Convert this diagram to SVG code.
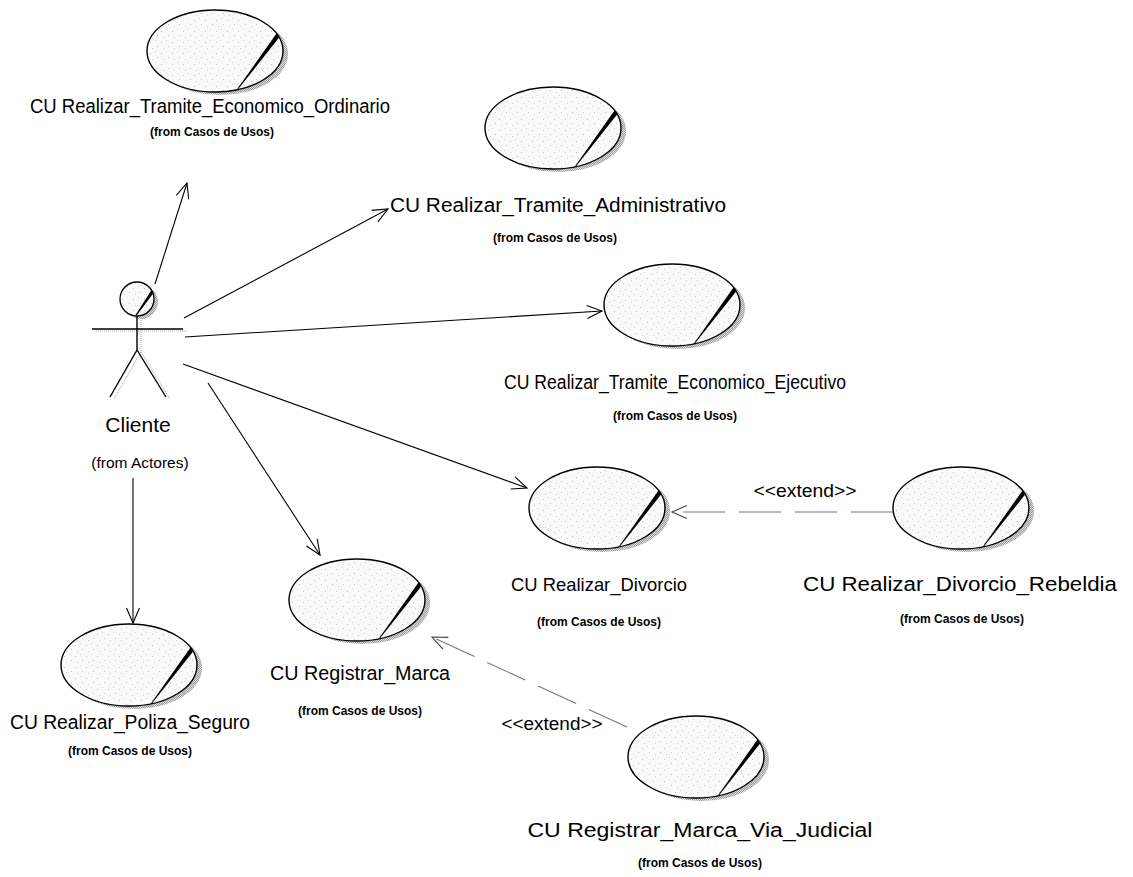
<svg xmlns="http://www.w3.org/2000/svg" width="1133" height="877" viewBox="0 0 1133 877">
  <style>
    .lbl { font-family: "Liberation Sans", Arial, sans-serif; font-size: 20px; fill: #000; text-anchor: middle; }
    .pkg { font-family: "Liberation Sans", Arial, sans-serif; font-size: 12px; font-weight: bold; fill: #000; text-anchor: middle; }
    .ext { font-family: "Liberation Sans", Arial, sans-serif; font-size: 18px; fill: #000; text-anchor: middle; }
    .assoc { stroke: #000; stroke-width: 1.1; fill: none; marker-end: url(#open); }
    .dep { stroke: #777; stroke-width: 1.1; fill: none; stroke-dasharray: 42 14; marker-end: url(#openGray); }
    .fig { stroke: #000; stroke-width: 1.4; fill: none; }
    .figShadow { stroke: #b0b0b0; stroke-width: 1.2; fill: none; stroke-dasharray: 1 1; }
  </style>
  <defs>
    <!-- speckled light fill used by the business use case icons -->
    <pattern id="stip" width="11" height="11" patternUnits="userSpaceOnUse">
      <rect width="11" height="11" fill="#fafafa"/>
      <rect x="1" y="2" width="1" height="1" fill="#c4c4c4"/>
      <rect x="6" y="0" width="1" height="1" fill="#d8d8d8"/>
      <rect x="8" y="6" width="1" height="1" fill="#c4c4c4"/>
      <rect x="3" y="8" width="1" height="1" fill="#d2d2d2"/>
    </pattern>
    <pattern id="shade" width="2" height="2" patternUnits="userSpaceOnUse">
      <rect width="2" height="2" fill="#dcdcdc"/>
      <rect width="1" height="1" fill="#9a9a9a"/>
      <rect x="1" y="1" width="1" height="1" fill="#9a9a9a"/>
    </pattern>
    <!-- business use case icon, centred on the origin -->
    <g id="uc">
      <ellipse cx="5" cy="3" rx="68" ry="41" fill="url(#shade)"/>
      <ellipse rx="68" ry="41" fill="url(#stip)"/>
      <polygon points="61.5,-17.5 64.5,-14 22.5,39 21.5,39" fill="#000"/>
      <ellipse rx="68" ry="41" fill="none" stroke="#000" stroke-width="1.4"/>
    </g>
    <marker id="open" markerWidth="20" markerHeight="16" refX="0" refY="0" viewBox="-16 -8 20 16" orient="auto" markerUnits="userSpaceOnUse">
      <path d="M-15,-6.5 L0,0 L-15,6.5" fill="none" stroke="#000" stroke-width="1.1"/>
    </marker>
    <marker id="openGray" markerWidth="20" markerHeight="16" refX="0" refY="0" viewBox="-16 -8 20 16" orient="auto" markerUnits="userSpaceOnUse">
      <path d="M-15,-6.5 L0,0 L-15,6.5" fill="none" stroke="#444" stroke-width="1.1"/>
    </marker>
  </defs>

  <rect width="1133" height="877" fill="#fff"/>

  <!-- connectors -->
  <g id="connectors">
    <line class="assoc" x1="155" y1="284" x2="187" y2="183"/>
    <line class="assoc" x1="184" y1="318" x2="388" y2="209"/>
    <line class="assoc" x1="185" y1="337" x2="602" y2="311"/>
    <line class="assoc" x1="183" y1="364" x2="527" y2="488"/>
    <line class="assoc" x1="208" y1="383" x2="320" y2="555"/>
    <line class="assoc" x1="133" y1="478" x2="133" y2="623"/>
    <line class="dep" x1="893" y1="512" x2="672" y2="512"/>
    <line class="dep" x1="627" y1="727" x2="432" y2="637"/>
    <text class="ext" x="805" y="497" textLength="103" lengthAdjust="spacingAndGlyphs">&lt;&lt;extend&gt;&gt;</text>
    <text class="ext" x="552" y="730" textLength="101" lengthAdjust="spacingAndGlyphs">&lt;&lt;extend&gt;&gt;</text>
  </g>

  <!-- actor -->
  <g id="cliente">
    <circle cx="141" cy="302" r="17" fill="url(#shade)"/>
    <line class="figShadow" x1="141" y1="318" x2="141" y2="352"/>
    <line class="figShadow" x1="96" y1="331" x2="187" y2="331"/>
    <line class="figShadow" x1="141" y1="352" x2="114" y2="399"/>
    <line class="figShadow" x1="141" y1="352" x2="170" y2="399"/>
    <circle cx="137" cy="299" r="17" fill="url(#stip)"/>
    <polygon points="151.5,290 153.5,293 137,315 135.5,315" fill="#000"/>
    <circle cx="137" cy="299" r="17" fill="none" stroke="#000" stroke-width="1.3"/>
    <line class="fig" x1="137" y1="316" x2="137" y2="350"/>
    <line class="fig" x1="92" y1="329" x2="183" y2="329"/>
    <line class="fig" x1="137" y1="350" x2="110" y2="397"/>
    <line class="fig" x1="137" y1="350" x2="166" y2="397"/>
    <text class="lbl" x="138" y="432" style="font-size:21px">Cliente</text>
    <text class="lbl" x="140" y="468" style="font-size:15.5px">(from Actores)</text>
  </g>

  <!-- use cases -->
  <g id="uc-ordinario">
    <use href="#uc" x="215" y="51"/>
    <text class="lbl" x="210" y="113" textLength="360" lengthAdjust="spacingAndGlyphs">CU Realizar_Tramite_Economico_Ordinario</text>
    <text class="pkg" x="212" y="136">(from Casos de Usos)</text>
  </g>
  <g id="uc-administrativo">
    <use href="#uc" x="553" y="128"/>
    <text class="lbl" x="558" y="212" textLength="336" lengthAdjust="spacingAndGlyphs">CU Realizar_Tramite_Administrativo</text>
    <text class="pkg" x="555" y="242">(from Casos de Usos)</text>
  </g>
  <g id="uc-ejecutivo">
    <use href="#uc" x="672" y="305"/>
    <text class="lbl" x="675" y="389" textLength="342" lengthAdjust="spacingAndGlyphs">CU Realizar_Tramite_Economico_Ejecutivo</text>
    <text class="pkg" x="675" y="420">(from Casos de Usos)</text>
  </g>
  <g id="uc-divorcio">
    <use href="#uc" x="597" y="508"/>
    <text class="lbl" x="599" y="591" textLength="176" lengthAdjust="spacingAndGlyphs" style="font-size:19px">CU Realizar_Divorcio</text>
    <text class="pkg" x="599" y="626">(from Casos de Usos)</text>
  </g>
  <g id="uc-rebeldia">
    <use href="#uc" x="961" y="508"/>
    <text class="lbl" x="960" y="591" textLength="314" lengthAdjust="spacingAndGlyphs">CU Realizar_Divorcio_Rebeldia</text>
    <text class="pkg" x="962" y="623">(from Casos de Usos)</text>
  </g>
  <g id="uc-marca">
    <use href="#uc" x="357" y="600"/>
    <text class="lbl" x="360" y="680" textLength="180" lengthAdjust="spacingAndGlyphs">CU Registrar_Marca</text>
    <text class="pkg" x="360" y="715">(from Casos de Usos)</text>
  </g>
  <g id="uc-poliza">
    <use href="#uc" x="129" y="665"/>
    <text class="lbl" x="130" y="729" textLength="240" lengthAdjust="spacingAndGlyphs">CU Realizar_Poliza_Seguro</text>
    <text class="pkg" x="130" y="755">(from Casos de Usos)</text>
  </g>
  <g id="uc-via-judicial">
    <use href="#uc" x="696" y="757"/>
    <text class="lbl" x="700" y="837" textLength="345" lengthAdjust="spacingAndGlyphs">CU Registrar_Marca_Via_Judicial</text>
    <text class="pkg" x="700" y="867">(from Casos de Usos)</text>
  </g>
</svg>
